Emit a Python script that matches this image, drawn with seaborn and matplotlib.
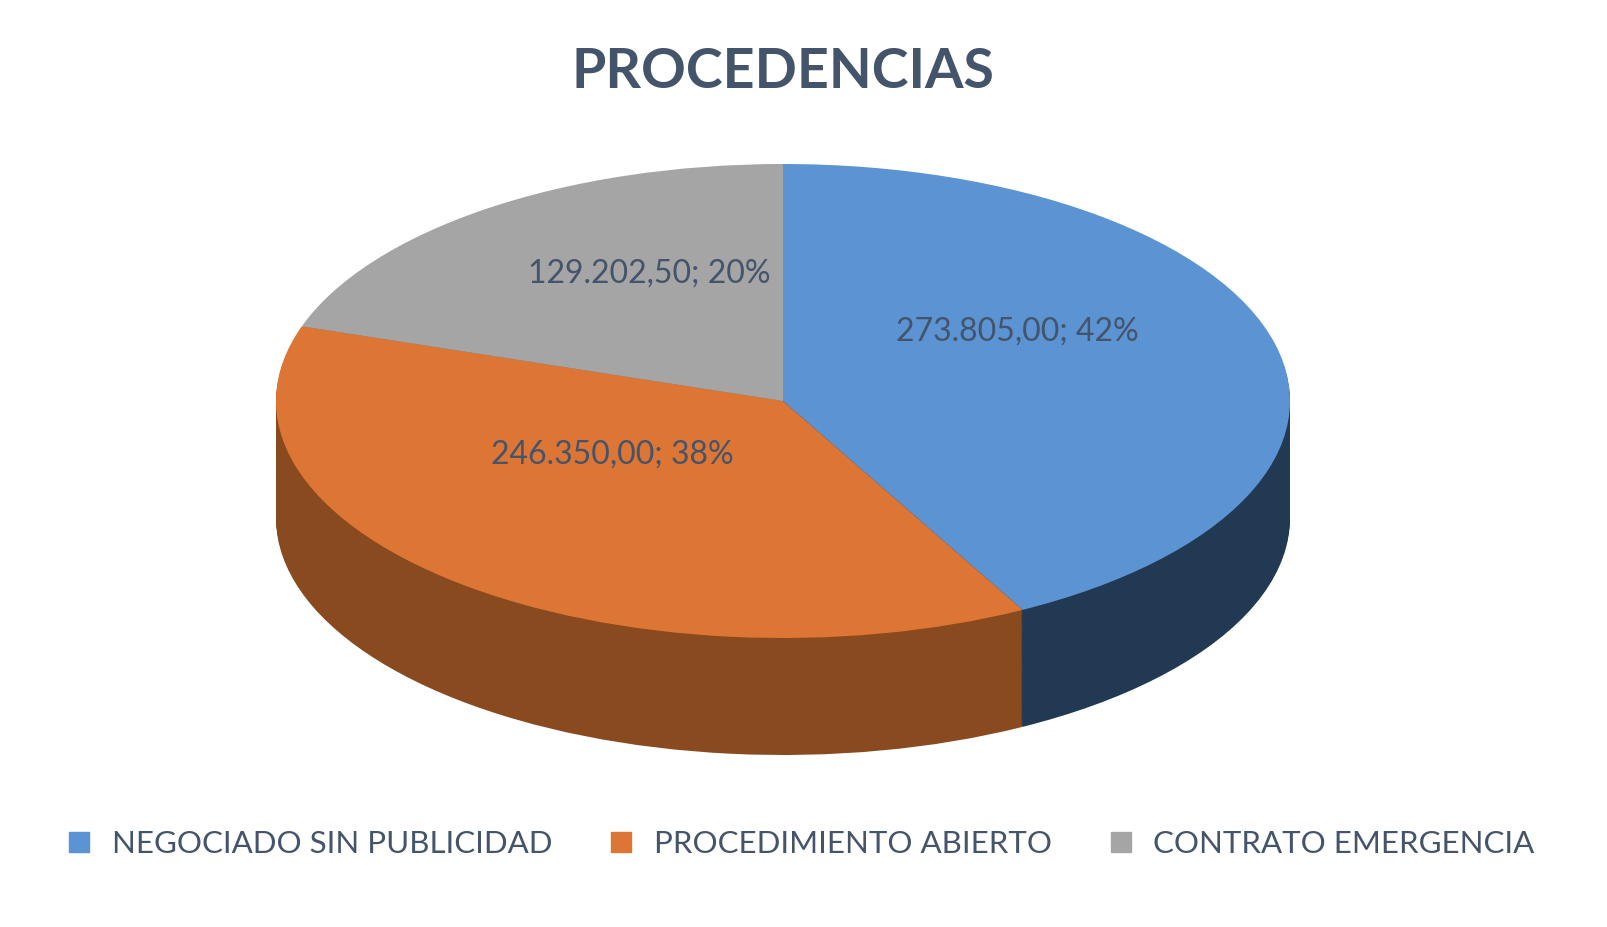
import numpy as np
import seaborn as sns
import matplotlib.pyplot as plt

categories = ["NEGOCIADO SIN PUBLICIDAD", "PROCEDIMIENTO ABIERTO", "CONTRATO EMERGENCIA"]
values = [273805.00, 246350.00, 129202.50]
labels = ["273.805,00; 42%", "246.350,00; 38%", "129.202,50; 20%"]
top_colors = ["#5B93D3", "#DD7634", "#A5A5A5"]
side_colors = ["#213952", "#8A4A20", "#6E6E6E"]

sns.set_theme(style="white")
plt.rcParams['font.family'] = ['Lato', 'DejaVu Sans']
text_col = "#44546A"

W, H = 1608, 928
fig = plt.figure(figsize=(W / 100, H / 100), dpi=100)
ax = fig.add_axes([0, 0, 1, 1])

# ellipse geometry in pixels
cx, cy, rx, ry, depth = 783, 402, 507, 237, 117
k = rx / ry  # y squash factor


def py(y):
    return (H - y) * k


# extruded side: stacked copies of the pie
n = 70
for i in range(n, 0, -1):
    off = depth * k * i / n
    ax.pie(values, colors=side_colors, startangle=90, counterclock=False,
           radius=rx, center=(cx, py(cy) - off),
           wedgeprops=dict(linewidth=0), frame=True)

# top face
ax.pie(values, colors=top_colors, startangle=90, counterclock=False,
       radius=rx, center=(cx, py(cy)), wedgeprops=dict(linewidth=0), frame=True)

ax.set_xlim(0, W)
ax.set_ylim(0, H * k)
ax.set_aspect('auto')
ax.axis('off')

label_pos = [(1017, 332), (612, 455), (649, 274)]
for (x, y), t in zip(label_pos, labels):
    ax.text(x, py(y), t, ha='center', va='center', fontsize=23, color=text_col)

ax.text(783, py(72), "PROCEDENCIAS", ha='center', va='center', fontsize=40,
        fontweight='bold', color=text_col)

handles = [plt.Line2D([], [], marker='s', linestyle='', markersize=15,
                      markerfacecolor=c, markeredgecolor=c) for c in top_colors]
fig.legend(handles, categories, loc='center', bbox_to_anchor=(0.492, 0.09),
           ncol=3, frameon=False, fontsize=22.5, labelcolor=text_col,
           handletextpad=0.05, columnspacing=1.2)

fig.savefig("out.png", dpi=100)
